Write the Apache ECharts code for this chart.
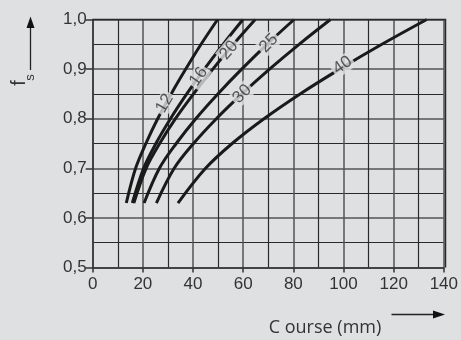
<!DOCTYPE html>
<html>
<head>
<meta charset="utf-8">
<script src="https://cdn.jsdelivr.net/npm/echarts@6/dist/echarts.min.js"></script>
<style>
  html, body { margin: 0; padding: 0; background: #dfe0e2; }
  #chart { width: 461px; height: 340px; }
</style>
</head>
<body>
<div id="chart"></div>
<script>
// f_s levels at which each curve was read
const fsLevels = [0.63, 0.70, 0.75, 0.80, 0.85, 0.90, 0.95, 1.00];
// Course (mm) readings for each curve at those f_s levels
const curve12 = [13.4, 17.1, 21.2, 25.9, 31.3, 37.1, 43.2, 49.8];
const curve16 = [15.8, 20.3, 25.2, 31.0, 37.5, 44.5, 52.0, 59.9];
const curve20 = [16.4, 21.3, 26.7, 33.0, 40.2, 47.9, 56.1, 64.8];
const curve25 = [20.5, 26.6, 33.3, 41.1, 49.9, 59.4, 69.5, 80.3];
const curve30 = [25.4, 32.5, 40.2, 49.3, 59.5, 70.5, 82.3, 94.8];
const curve40 = [34.0, 45.0, 55.6, 68.3, 82.7, 98.5, 115.3, 133.2];
const curveNames = ['12', '16', '20', '25', '30', '40'];
const curves = [curve12, curve16, curve20, curve25, curve30, curve40];
// curve label positions (course, f_s)
const labelX = [28.7, 42.2, 54.3, 70.2, 59.6, 99.6];
const labelY = [0.831, 0.885, 0.938, 0.952, 0.850, 0.908];
const labelRot = [60, 55, 50, 45, 45, 35];
const xTicks = [0, 20, 40, 60, 80, 100, 120, 140];
const yTicks = [0.5, 0.6, 0.7, 0.8, 0.9, 1.0];

const BG = '#dfe0e2';
const INK = '#1a1a1a';
const chart = echarts.init(document.getElementById('chart'));

const series = curves.map((xs, i) => ({
  type: 'line',
  name: curveNames[i],
  data: xs.map((x, k) => [x, fsLevels[k]]),
  smooth: 0.35,
  showSymbol: false,
  symbol: 'none',
  lineStyle: { color: INK, width: 3 },
  z: 3,
  silent: true
}));

series.push({
  type: 'scatter',
  data: curveNames.map((n, i) => ({
    value: [labelX[i], labelY[i]],
    label: {
      show: true,
      formatter: n,
      rotate: labelRot[i],
      position: 'inside',
      color: '#333',
      fontSize: 17,
      fontFamily: 'Liberation Sans, Arial, sans-serif',
      backgroundColor: BG,
      padding: [0, 2, 0, 2]
    }
  })),
  symbolSize: 0,
  z: 5,
  silent: true
});

const option = {
  backgroundColor: BG,
  animation: false,
  grid: { left: 92.7, right: 15.5, top: 19.5, bottom: 72.5, show: false },
  xAxis: {
    type: 'value',
    min: xTicks[0],
    max: xTicks[xTicks.length - 1],
    interval: 20,
    axisLine: { show: true, onZero: false, lineStyle: { color: '#333', width: 1.5 } },
    axisTick: { show: true, length: 5, lineStyle: { color: '#333', width: 1.5 } },
    axisLabel: { margin: 8, color: '#333', fontSize: 17, fontFamily: 'Liberation Sans, Arial, sans-serif' },
    splitLine: { show: true, lineStyle: { color: '#555', width: 1.5 } },
    minorTick: { show: false, splitNumber: 2 },
    minorSplitLine: { show: true, lineStyle: { color: '#2a2a2a', width: 1.2 } }
  },
  yAxis: {
    type: 'value',
    min: yTicks[0],
    max: yTicks[yTicks.length - 1],
    interval: 0.1,
    axisLine: { show: true, onZero: false, lineStyle: { color: '#333', width: 1.5 } },
    axisTick: { show: true, length: 7, lineStyle: { color: '#333', width: 1.5 } },
    axisLabel: {
      margin: 6, color: '#333', fontSize: 17, fontFamily: 'Liberation Sans, Arial, sans-serif',
      formatter: v => v.toFixed(1).replace('.', ',')
    },
    splitLine: { show: true, lineStyle: { color: '#555', width: 1.5 } },
    minorTick: { show: false, splitNumber: 2 },
    minorSplitLine: { show: true, lineStyle: { color: '#2a2a2a', width: 1.2 } }
  },
  graphic: [
    // plot border (top and right)
    { type: 'polyline', shape: { points: [[92.7, 19.5], [445.5, 19.5], [445.5, 267.5]] },
      style: { stroke: '#2a2a2a', lineWidth: 1.5, fill: null }, z: 10 },
    // y title arrow
    { type: 'line', shape: { x1: 30.5, y1: 70, x2: 30.5, y2: 26 }, style: { stroke: '#222', lineWidth: 1.3 } },
    { type: 'polygon', shape: { points: [[26.5, 28], [34.5, 28], [30.5, 16.5]] }, style: { fill: '#111' } },
    { type: 'text', x: 19, y: 83, rotation: Math.PI / 2,
      style: { text: 'f', fontSize: 20, fill: '#333', align: 'center', verticalAlign: 'middle',
        font: '20px Liberation Sans, Arial, sans-serif' } },
    { type: 'text', x: 30.5, y: 77.5, rotation: Math.PI / 2,
      style: { text: 's', fill: '#333', align: 'center', verticalAlign: 'middle',
        font: '13px Liberation Sans, Arial, sans-serif' } },
    // x title and arrow
    { type: 'text', x: 325, y: 328,
      style: { text: 'C ourse (mm)', fill: '#333', align: 'center', verticalAlign: 'middle',
        font: '18px "Open Sans", Liberation Sans, Arial, sans-serif' } },
    { type: 'line', shape: { x1: 391.5, y1: 314.5, x2: 436, y2: 314.5 }, style: { stroke: '#222', lineWidth: 1.3 } },
    { type: 'polygon', shape: { points: [[433, 310.5], [433, 318.5], [445, 314.5]] }, style: { fill: '#111' } }
  ],
  series: series
};
chart.setOption(option);
</script>
</body>
</html>
